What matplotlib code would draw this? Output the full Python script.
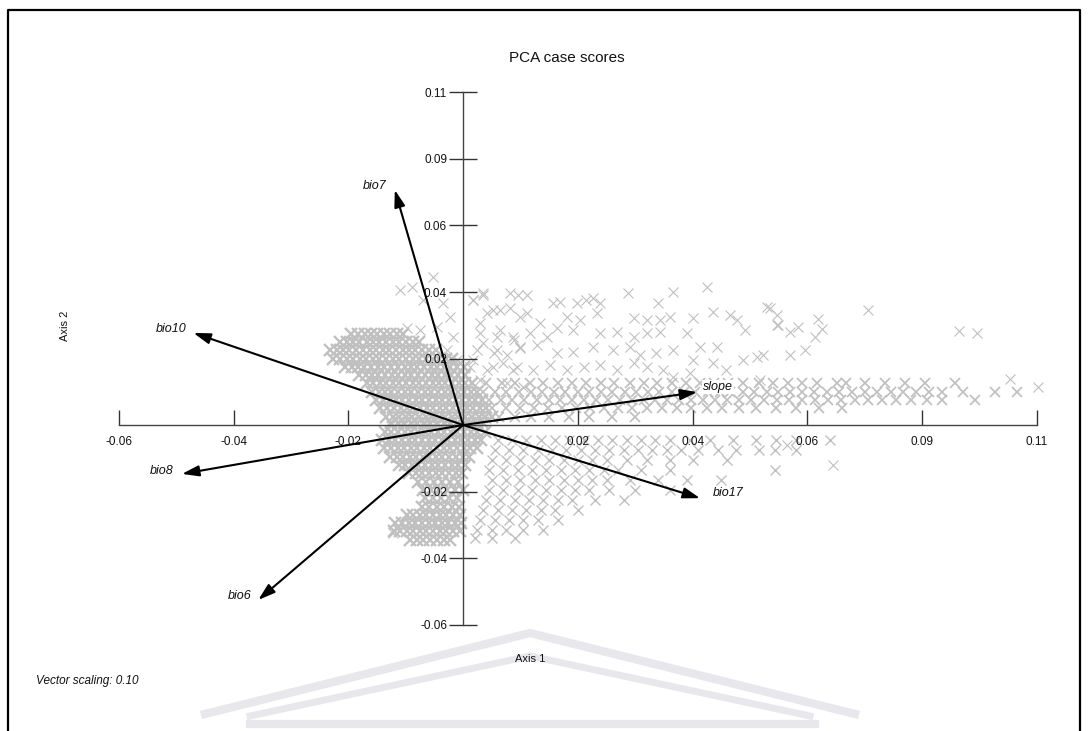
import matplotlib
matplotlib.use("Agg")
import matplotlib.pyplot as plt
from matplotlib.lines import Line2D

plt.rcParams['font.family'] = ['Liberation Sans', 'DejaVu Sans']

# --- biplot vectors (scaled by 0.10) ---
vec_names = ["bio7", "bio10", "bio8", "bio6", "slope", "bio17"]
vec_x = [-0.0119, -0.0470, -0.0490, -0.0357, 0.0408, 0.0413]
vec_y = [0.0707, 0.0277, -0.0147, -0.0526, 0.0099, -0.0220]

tick_vals = [-0.06, -0.04, -0.02, 0.02, 0.04, 0.06, 0.08, 0.10]
tick_labels = ["-0.06", "-0.04", "-0.02", "0.02", "0.04", "0.06", "0.09", "0.11"]

# --- case scores (y, [x...]) ---
dense_upper_left = [
    (0.0275, [-0.0195, -0.0184, -0.0171, -0.0161, -0.0150, -0.0138, -0.0127, -0.0115, -0.0104]),
    (0.0250, [-0.0214, -0.0202, -0.0191, -0.0181, -0.0168, -0.0157, -0.0146, -0.0134, -0.0122,
              -0.0111, -0.0100, -0.0088, -0.0076]),
    (0.0225, [-0.0232, -0.0220, -0.0209, -0.0198, -0.0186, -0.0175, -0.0163, -0.0151, -0.0140,
              -0.0129, -0.0117, -0.0105, -0.0094, -0.0083, -0.0071, -0.0059, -0.0048]),
    (0.0200, [-0.0226, -0.0214, -0.0203, -0.0191, -0.0180, -0.0169, -0.0157, -0.0146, -0.0134,
              -0.0122, -0.0111, -0.0099, -0.0088, -0.0077, -0.0065, -0.0053, -0.0042, -0.0030, -0.0019]),
    (0.0175, [-0.0206, -0.0194, -0.0183, -0.0172, -0.0160, -0.0148, -0.0137, -0.0126, -0.0114,
              -0.0102, -0.0091, -0.0080, -0.0068, -0.0056, -0.0045, -0.0034, -0.0022, -0.0010, 0.0001]),
    (0.0150, [-0.0182, -0.0170, -0.0159, -0.0148, -0.0136, -0.0124, -0.0113, -0.0101, -0.0090,
              -0.0079, -0.0067, -0.0055, -0.0044, -0.0032, -0.0021, -0.0009, 0.0003]),
    (0.0125, [-0.0168, -0.0157, -0.0145, -0.0134, -0.0123, -0.0111, -0.0099, -0.0088, -0.0077,
              -0.0065, -0.0053, -0.0042, -0.0031, -0.0019, -0.0007, 0.0004, 0.0016]),
    (0.0100, [-0.0159, -0.0147, -0.0136, -0.0125, -0.0113, -0.0101, -0.0090, -0.0078, -0.0067,
              -0.0056, -0.0044, -0.0032, -0.0021, -0.0009, 0.0002, 0.0014, 0.0025]),
    (0.0075, [-0.0151, -0.0140, -0.0128, -0.0117, -0.0106, -0.0094, -0.0082, -0.0071, -0.0059,
              -0.0048, -0.0037, -0.0025, -0.0013, -0.0002, 0.0010, 0.0021, 0.0033]),
    (0.0050, [-0.0144, -0.0132, -0.0121, -0.0109, -0.0098, -0.0087, -0.0075, -0.0063, -0.0052,
              -0.0040, -0.0029, -0.0017, -0.0006, 0.0006, 0.0017, 0.0029, 0.0040]),
    (0.0025, [-0.0134, -0.0123, -0.0111, -0.0100, -0.0089, -0.0077, -0.0065, -0.0054, -0.0042,
              -0.0031, -0.0019, -0.0008, 0.0004, 0.0015, 0.0027, 0.0038, 0.0050]),
    (0.0005, [-0.0126, -0.0114, -0.0103, -0.0091, -0.0080, -0.0068, -0.0057, -0.0045, -0.0034,
              -0.0022, -0.0011, 0.0001, 0.0012, 0.0024, 0.0035]),
]

dense_lower_left = [
    (-0.0020, [-0.0136, -0.0125, -0.0113, -0.0102, -0.0090, -0.0079, -0.0067, -0.0056, -0.0044,
               -0.0033, -0.0021, -0.0010, 0.0002, 0.0013, 0.0025, 0.0038]),
    (-0.0045, [-0.0141, -0.0129, -0.0118, -0.0106, -0.0095, -0.0083, -0.0072, -0.0060, -0.0049,
               -0.0037, -0.0026, -0.0014, -0.0003, 0.0009, 0.0020, 0.0032]),
    (-0.0070, [-0.0137, -0.0126, -0.0114, -0.0103, -0.0091, -0.0080, -0.0068, -0.0057, -0.0045,
               -0.0034, -0.0022, -0.0011, 0.0001, 0.0012, 0.0024]),
    (-0.0095, [-0.0128, -0.0116, -0.0105, -0.0093, -0.0082, -0.0070, -0.0059, -0.0047, -0.0036,
               -0.0024, -0.0013, -0.0001, 0.0010]),
    (-0.0120, [-0.0112, -0.0101, -0.0089, -0.0078, -0.0066, -0.0055, -0.0043, -0.0032, -0.0020,
               -0.0009, 0.0003]),
    (-0.0145, [-0.0094, -0.0082, -0.0071, -0.0059, -0.0048, -0.0036, -0.0025, -0.0013, -0.0002]),
    (-0.0170, [-0.0078, -0.0064, -0.0050, -0.0036, -0.0022, -0.0008]),
    (-0.0195, [-0.0070, -0.0056, -0.0042, -0.0028, -0.0014, 0.0000]),
    (-0.0220, [-0.0066, -0.0052, -0.0038, -0.0024, -0.0010]),
    (-0.0245, [-0.0072, -0.0059, -0.0046, -0.0033, -0.0020, -0.0007]),
    (-0.0270, [-0.0098, -0.0087, -0.0075, -0.0064, -0.0052, -0.0041, -0.0029, -0.0018, -0.0006]),
    (-0.0295, [-0.0118, -0.0106, -0.0095, -0.0083, -0.0072, -0.0060, -0.0049, -0.0037, -0.0026,
               -0.0014, -0.0003]),
    (-0.0320, [-0.0121, -0.0110, -0.0098, -0.0087, -0.0075, -0.0064, -0.0052, -0.0041, -0.0029,
               -0.0018, -0.0006]),
    (-0.0345, [-0.0092, -0.0080, -0.0069, -0.0057, -0.0046, -0.0034, -0.0023]),
]

band_right = [
    (0.0125, [0.0040, 0.0068, 0.0091, 0.0117, 0.0140, 0.0166, 0.0190, 0.0214, 0.0241, 0.0263,
              0.0290, 0.0315, 0.0338, 0.0364, 0.0389, 0.0412, 0.0437, 0.0462, 0.0488, 0.0515,
              0.0540, 0.0566, 0.0590, 0.0617, 0.0652, 0.0667, 0.0700, 0.0735, 0.0770, 0.0805, 0.0857]),
    (0.0100, [0.0035, 0.0056, 0.0075, 0.0097, 0.0118, 0.0137, 0.0159, 0.0178, 0.0200, 0.0219,
              0.0241, 0.0260, 0.0282, 0.0301, 0.0323, 0.0342, 0.0364, 0.0385, 0.0404, 0.0426,
              0.0447, 0.0466, 0.0488, 0.0507, 0.0529, 0.0548, 0.0570, 0.0591, 0.0612, 0.0634,
              0.0655, 0.0678, 0.0700, 0.0722, 0.0745, 0.0767, 0.0790, 0.0812, 0.0834, 0.0871,
              0.0927, 0.0965]),
    (0.0075, [0.0045, 0.0066, 0.0086, 0.0107, 0.0128, 0.0149, 0.0169, 0.0190, 0.0211, 0.0232,
              0.0252, 0.0273, 0.0294, 0.0315, 0.0335, 0.0356, 0.0377, 0.0398, 0.0418, 0.0439,
              0.0460, 0.0481, 0.0502, 0.0524, 0.0547, 0.0568, 0.0590, 0.0613, 0.0636, 0.0659,
              0.0683, 0.0706, 0.0730, 0.0755, 0.0781, 0.0808, 0.0834, 0.0892]),
    (0.0050, [0.0050, 0.0074, 0.0099, 0.0123, 0.0148, 0.0172, 0.0197, 0.0221, 0.0246, 0.0270,
              0.0295, 0.0320, 0.0346, 0.0372, 0.0398, 0.0425, 0.0452, 0.0480, 0.0510, 0.0545,
              0.0580, 0.0620, 0.0660]),
    (0.0025, [0.0062, 0.0090, 0.0118, 0.0150, 0.0185, 0.0220, 0.0260, 0.0300]),
]

lower_right = [
    (-0.0045, [0.0060, 0.0085, 0.0110, 0.0135, 0.0160, 0.0185, 0.0210, 0.0235, 0.0260, 0.0285,
               0.0310, 0.0335, 0.0360, 0.0395, 0.0430, 0.0470, 0.0510, 0.0545, 0.0580, 0.0639]),
    (-0.0075, [0.0055, 0.0080, 0.0105, 0.0130, 0.0155, 0.0180, 0.0205, 0.0230, 0.0255, 0.0280,
               0.0305, 0.0330, 0.0355, 0.0380, 0.0410, 0.0445, 0.0475, 0.0515, 0.0544, 0.0580]),
    (-0.0105, [0.0050, 0.0075, 0.0100, 0.0125, 0.0150, 0.0175, 0.0200, 0.0225, 0.0250, 0.0285,
               0.0320, 0.0360, 0.0400, 0.0460]),
    (-0.0135, [0.0045, 0.0070, 0.0095, 0.0120, 0.0145, 0.0170, 0.0195, 0.0220, 0.0245, 0.0270,
               0.0310, 0.0360, 0.0544]),
    (-0.0165, [0.0050, 0.0075, 0.0100, 0.0125, 0.0150, 0.0175, 0.0200, 0.0225, 0.0250, 0.0290,
               0.0340, 0.0390, 0.0450]),
    (-0.0195, [0.0045, 0.0070, 0.0095, 0.0120, 0.0145, 0.0170, 0.0195, 0.0220, 0.0255, 0.0300, 0.0360]),
    (-0.0225, [0.0040, 0.0065, 0.0090, 0.0115, 0.0140, 0.0165, 0.0190, 0.0230, 0.0280]),
    (-0.0255, [0.0035, 0.0060, 0.0085, 0.0110, 0.0135, 0.0160, 0.0200]),
    (-0.0285, [0.0030, 0.0055, 0.0080, 0.0105, 0.0130, 0.0165]),
    (-0.0315, [0.0025, 0.0050, 0.0075, 0.0105, 0.0140]),
    (-0.0340, [0.0020, 0.0050, 0.0090]),
]

# scattered single crosses
sparse_x = [
    0.0035, 0.0018, 0.0096, 0.0111, 0.0157, 0.0169, 0.0198, 0.0215, 0.0227, 0.0239, 0.0288, 0.0340,
    0.0366, 0.0425, 0.0535, 0.0041, 0.0064, 0.0082, 0.0111, 0.0134, 0.0181, 0.0204, 0.0233, 0.0297,
    0.0320, 0.0343, 0.0361, 0.0401, 0.0436, 0.0465, 0.0477, 0.0491, 0.0547, 0.0030, 0.0059, 0.0088,
    0.0117, 0.0146, 0.0163, 0.0192, 0.0239, 0.0268, 0.0297, 0.0320, 0.0343, 0.0390, 0.0413, 0.0442,
    0.0024, 0.0053, 0.0076, 0.0099, 0.0128, 0.0163, 0.0192, 0.0227, 0.0262, 0.0291, 0.0308, 0.0337,
    0.0366, 0.0401, 0.0436, 0.0488, 0.0512, 0.0012, 0.0041, 0.0070, 0.0094, 0.0122, 0.0152, 0.0181,
    0.0210, 0.0239, 0.0268, 0.0297, 0.0320, 0.0349, 0.0366, 0.0395, 0.0459, 0.0517,
    -0.0110, -0.0089, -0.0052, -0.0070, -0.0035, -0.0023, -0.0045, -0.0075, -0.0098, -0.0017,
    -0.0028, -0.0010, 0.0035, 0.0017, 0.0052, 0.0082, 0.0099, 0.0030, 0.0064, 0.0087, 0.0035,
    0.0059, 0.0099, 0.0017, 0.0052, 0.0087, 0.0030, 0.0077, 0.0105,
    0.0530, 0.0547, 0.0549, 0.0570, 0.0584, 0.0618, 0.0625, 0.0613, 0.0596, 0.0570, 0.0523,
    0.0706, 0.0864, 0.0895, 0.0953, 0.1002, 0.0564, 0.0645, -0.0122,
]
sparse_y = [
    0.0391, 0.0376, 0.0391, 0.0391, 0.0366, 0.0371, 0.0366, 0.0376, 0.0381, 0.0366, 0.0396, 0.0366,
    0.0401, 0.0416, 0.0351, 0.0336, 0.0346, 0.0351, 0.0336, 0.0306, 0.0326, 0.0316, 0.0336, 0.0321,
    0.0316, 0.0316, 0.0326, 0.0321, 0.0341, 0.0331, 0.0316, 0.0286, 0.0301, 0.0276, 0.0266, 0.0256,
    0.0276, 0.0266, 0.0291, 0.0286, 0.0276, 0.0281, 0.0266, 0.0276, 0.0281, 0.0276, 0.0236, 0.0236,
    0.0226, 0.0216, 0.0211, 0.0231, 0.0241, 0.0216, 0.0221, 0.0236, 0.0226, 0.0236, 0.0211, 0.0216,
    0.0226, 0.0195, 0.0186, 0.0195, 0.0206, 0.0175, 0.0165, 0.0186, 0.0175, 0.0165, 0.0180, 0.0165,
    0.0175, 0.0180, 0.0165, 0.0186, 0.0175, 0.0165, 0.0145, 0.0155, 0.0165, 0.0135,
    0.0406, 0.0415, 0.0445, 0.0376, 0.0367, 0.0325, 0.0295, 0.0286, 0.0292, 0.0265,
    0.0226, 0.0196, 0.0397, 0.0376, 0.0346, 0.0397, 0.0325, 0.0307, 0.0286, 0.0265, 0.0247,
    0.0226, 0.0235, 0.0196, 0.0175, 0.0165, 0.0135, 0.0126, 0.0114,
    0.0355, 0.0330, 0.0300, 0.0280, 0.0295, 0.0320, 0.0290, 0.0265, 0.0226, 0.0210, 0.0210,
    0.0346, 0.0283, 0.0277, 0.0138, 0.0114, -0.0060, -0.0120, -0.0325,
]


def flatten(rows):
    xs, ys = [], []
    for y, row in rows:
        xs.extend(row)
        ys.extend([y] * len(row))
    return xs, ys


W, H = 1088, 731
fig = plt.figure(figsize=(W / 100, H / 100), dpi=100)
ax = fig.add_axes([0, 0, 1, 1])
ax.patch.set_visible(False)

# data window chosen so the origin sits where it does in the picture
ax.set_xlim(-0.0807, 0.1089)
ax.set_ylim(-0.0920, 0.1278)

gray = '#c0c0c0'
# the packed parts of the cloud read as almost solid grey
for rows in (dense_upper_left, dense_lower_left):
    xs, ys = flatten(rows)
    ax.plot(xs, ys, 'x', color=gray, markersize=8, mew=1.7, zorder=1)
xs, ys = flatten(band_right)
ax.plot(xs, ys, 'x', color=gray, markersize=7.5, mew=1.25, zorder=1)
xs, ys = flatten(lower_right)
ax.plot(xs, ys, 'x', color=gray, markersize=7.5, mew=1.0, zorder=1)
ax.plot(sparse_x, sparse_y, 'x', color=gray, markersize=7, mew=0.8, zorder=1)

# axes crossing at the origin
for side in ('top', 'right'):
    ax.spines[side].set_visible(False)
ax.spines['bottom'].set_position(('data', 0))
ax.spines['left'].set_position(('data', 0))
ax.spines['bottom'].set_bounds(-0.06, 0.10)
ax.spines['left'].set_bounds(-0.06, 0.10)
for side in ('bottom', 'left'):
    ax.spines[side].set_color('#444444')
    ax.spines[side].set_linewidth(1.0)
    ax.spines[side].set_zorder(2)

ax.set_xticks(tick_vals)
ax.set_xticklabels(tick_labels)
ax.set_yticks(tick_vals)
ax.set_yticklabels(tick_labels)
ax.tick_params(axis='x', direction='in', length=11, width=1, color='#333333',
               pad=8, labelsize=8.5, labelcolor='#111111')
ax.tick_params(axis='y', direction='inout', length=20, width=1, color='#333333',
               pad=1.5, labelsize=8.5, labelcolor='#111111')

# vectors
label_offsets = {"bio7": (-20, 4), "bio10": (-22, 4), "bio8": (-20, 3),
                 "bio6": (-19, 4), "slope": (21, 5), "bio17": (28, 5)}
for name, vx, vy in zip(vec_names, vec_x, vec_y):
    ax.annotate('', xy=(vx, vy), xytext=(0, 0),
                arrowprops=dict(arrowstyle='-|>,head_length=0.85,head_width=0.27',
                                color='black', lw=1.5, mutation_scale=12,
                                shrinkA=0, shrinkB=0),
                zorder=3)
    dx, dy = label_offsets[name]
    ax.annotate(name, xy=(vx, vy), xytext=(dx * 0.72, dy * 0.72),
                textcoords='offset points', ha='center', va='center',
                fontsize=9, fontstyle='italic', color='#111111', zorder=4,
                bbox=dict(boxstyle='square,pad=0.1', fc='white', ec='none'))

# titles and notes
fig.text(567 / W, 1 - 58 / H, 'PCA case scores', ha='center', va='center',
         fontsize=11, color='#111111')
fig.text(530 / W, 1 - 659 / H, 'Axis 1', ha='center', va='center',
         fontsize=8, color='#111111')
fig.text(65 / W, 1 - 326 / H, 'Axis 2', ha='center', va='center',
         rotation=90, fontsize=8, color='#111111')
fig.text(36 / W, 1 - 681 / H, 'Vector scaling: 0.10', ha='left', va='center',
         fontsize=8.5, fontstyle='italic', color='#111111')

# faint watermark at the bottom
wm = '#e8e8ec'
for px, py, lw in [([205, 530, 855], [714, 633, 714], 6),
                   ([250, 530, 810], [716, 656, 716], 5),
                   ([250, 815], [724, 724], 6)]:
    fig.add_artist(Line2D([p / W for p in px], [1 - q / H for q in py],
                          transform=fig.transFigure, color=wm, lw=lw, zorder=0))

# frame around the page (open at the bottom)
fig.add_artist(Line2D([8 / W, 8 / W, 1080 / W, 1080 / W],
                      [0, 1 - 10 / H, 1 - 10 / H, 0],
                      transform=fig.transFigure, color='black', lw=1.6))

fig.savefig('out.png', dpi=100)
